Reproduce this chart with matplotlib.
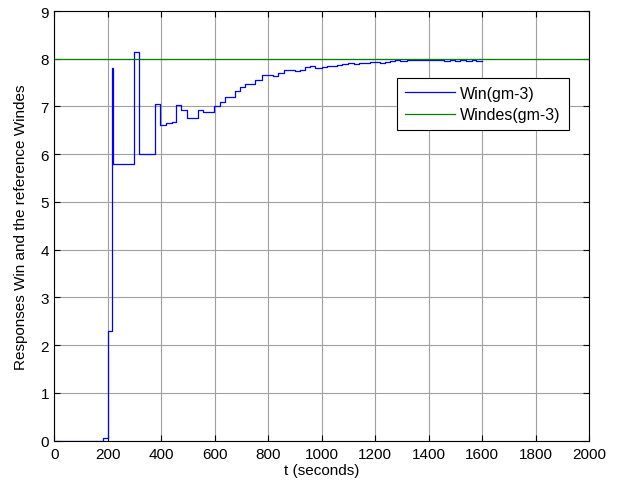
import matplotlib
matplotlib.use("Agg")
import matplotlib.pyplot as plt
import numpy as np

plt.rcParams['font.family'] = ['Liberation Sans', 'DejaVu Sans']

# Step start times (s) and held values of Win (gm-3)
t_steps = [0, 181, 200, 216, 220, 298, 316, 376, 394, 416, 438, 456, 475, 494,
           538, 557, 598, 619, 638, 675, 694, 713, 732, 750, 776, 794, 819, 838,
           857, 882, 900, 919, 938, 957, 976, 1001, 1019, 1038, 1057, 1076, 1100,
           1119, 1138, 1157, 1182, 1200, 1219, 1238, 1257, 1275, 1294, 1319, 1456,
           1481, 1500, 1519, 1541, 1562, 1579, 1600]
win_values = [0.0, 0.05, 2.3, 7.8, 5.8, 8.15, 6.0, 7.05, 6.62, 6.65, 6.68, 7.04, 6.92, 6.75,
              6.93, 6.89, 7.01, 7.10, 7.19, 7.33, 7.41, 7.48, 7.47, 7.55, 7.66, 7.66, 7.64, 7.70,
              7.76, 7.76, 7.74, 7.76, 7.82, 7.85, 7.81, 7.83, 7.85, 7.85, 7.87, 7.89, 7.90,
              7.89, 7.90, 7.91, 7.93, 7.93, 7.91, 7.93, 7.95, 7.97, 7.95, 7.98, 7.96,
              7.98, 7.96, 7.98, 7.96, 7.98, 7.96, 7.96]

windes_t = [0, 2000]
windes_values = [8, 8]

x_ticks = list(range(0, 2001, 200))
y_ticks = list(range(0, 10))

fig = plt.figure(figsize=(6.18, 4.89), dpi=100)
ax = fig.add_axes([54.5/618, 1 - 441.5/489, 534.5/618, 429.5/489])

ax.grid(True, color='#a0a0a0', linewidth=0.8, linestyle='-')
ax.set_axisbelow(True)

ax.step(t_steps, win_values, where='post', color=(0, 0, 1), linewidth=0.9, label='Win(gm-3)')
ax.plot(windes_t, windes_values, color=(0, 0.5, 0), linewidth=0.9, label='Windes(gm-3)')

ax.set_xlim(0, 2000)
ax.set_ylim(0, 9)
ax.set_xticks(x_ticks)
ax.set_yticks(y_ticks)
ax.tick_params(direction='in', top=True, right=True, length=4, width=0.8,
               labelsize=11, colors='black')
ax.tick_params(axis='x', pad=5)
ax.tick_params(axis='y', pad=4)
for s in ax.spines.values():
    s.set_color('black')
    s.set_linewidth(0.8)

ax.set_xlabel('t (seconds)', fontsize=11, labelpad=1)
ax.set_ylabel('Responses Win and the reference Windes', fontsize=11, labelpad=9)

leg = ax.legend(loc='upper left', bbox_to_anchor=(0.641, 0.844), frameon=True,
                fancybox=False, edgecolor='black', framealpha=1, fontsize=11.5,
                handlelength=3.1, handletextpad=0.35, borderpad=0.5,
                labelspacing=0.4, borderaxespad=0)
leg.get_frame().set_linewidth(0.8)

fig.savefig('out.png', dpi=100)
